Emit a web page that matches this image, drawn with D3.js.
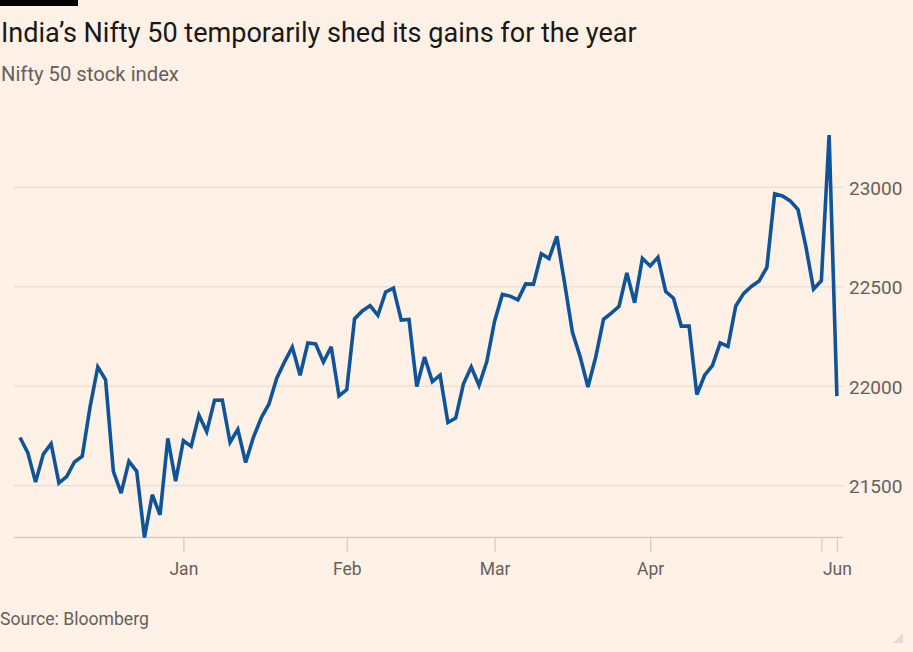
<!DOCTYPE html>
<html>
<head>
<meta charset="utf-8">
<script src="https://cdn.jsdelivr.net/npm/d3@7"></script>
<style>
  html, body { margin: 0; padding: 0; background: #fff1e5; }
  svg { display: block; }
  text { font-family: Roboto, "Noto Sans", sans-serif; }
</style>
</head>
<body>
<svg id="chart" width="913" height="652"></svg>
<script>
// ---- Data (Nifty 50 daily closes, trading days) ----
const months = ["Jan", "Feb", "Mar", "Apr", "May", "Jun"];
const janDays = ["01-01","01-02","01-03","01-04","01-05","01-08","01-09","01-10","01-11","01-12","01-15","01-16","01-17","01-18","01-19","01-20","01-23","01-24","01-25","01-29","01-30","01-31"];
const janValues = [21741.9,21665.8,21517.35,21658.6,21710.8,21513.0,21544.85,21618.7,21647.2,21894.55,22097.45,22032.3,21571.95,21462.25,21622.4,21571.8,21238.8,21453.95,21352.6,21737.6,21522.1,21725.7];
const febDays = ["02-01","02-02","02-05","02-06","02-07","02-08","02-09","02-12","02-13","02-14","02-15","02-16","02-19","02-20","02-21","02-22","02-23","02-26","02-27","02-28","02-29"];
const febValues = [21697.45,21853.8,21771.7,21929.4,21930.5,21717.95,21782.5,21616.05,21743.25,21840.05,21910.75,22040.7,22122.25,22196.95,22055.05,22217.45,22212.7,22122.05,22198.35,21951.15,21982.8];
const marDays = ["03-01","03-02","03-04","03-05","03-06","03-07","03-11","03-12","03-13","03-14","03-15","03-18","03-19","03-20","03-21","03-22","03-26","03-27","03-28"];
const marValues = [22338.75,22378.4,22405.6,22356.3,22474.05,22493.55,22332.65,22335.7,21997.7,22146.65,22023.35,22055.7,21817.45,21839.1,22011.95,22096.75,22004.7,22123.65,22326.9];
const aprDays = ["04-01","04-02","04-03","04-04","04-05","04-08","04-09","04-10","04-12","04-15","04-16","04-18","04-19","04-22","04-23","04-24","04-25","04-26","04-29","04-30"];
const aprValues = [22462.0,22453.3,22434.65,22514.65,22513.7,22666.3,22642.75,22753.8,22519.4,22272.5,22147.9,21995.85,22147.0,22336.4,22368.0,22402.4,22570.35,22419.95,22643.4,22604.85];
const mayDays = ["05-02","05-03","05-06","05-07","05-08","05-09","05-10","05-13","05-14","05-15","05-16","05-17","05-18","05-21","05-22","05-23","05-24","05-27","05-28","05-29","05-30","05-31"];
const mayValues = [22648.2,22475.85,22442.7,22302.5,22302.5,21957.5,22055.2,22104.05,22217.85,22200.55,22403.85,22466.1,22502.0,22529.05,22597.8,22967.65,22957.1,22932.45,22888.15,22704.7,22488.65,22530.7];
const junDays = ["06-03","06-04"];
const junValues = [23263.9,21950];
const yTicks = [21500, 22000, 22500, 23000];
// x ticks: last trading day of each month, plus the final day; label shown (or blank)
const xTickDays = ["01-31","02-29","03-28","04-30","05-31","06-04"];
const xTickLabels = ["Jan","Feb","Mar","Apr","","Jun"];

const dates = [].concat(janDays, febDays, marDays, aprDays, mayDays, junDays);
const values = [].concat(janValues, febValues, marValues, aprValues, mayValues, junValues);
const data = dates.map((d, i) => ({ date: d, i: i, v: values[i] }));

// ---- Chart ----
const svg = d3.select("#chart");
const W = 913, H = 652;
svg.append("rect").attr("width", W).attr("height", H).attr("fill", "#fff1e5");

const x = d3.scaleLinear().domain([0, data.length - 1]).range([20, 836.9]);
const y = d3.scaleLinear().domain(d3.extent(values)).range([537.5, 135]);
const gridLeft = 14, gridRight = 843;

// top black bar
svg.append("rect").attr("x", 0).attr("y", 0).attr("width", 78).attr("height", 6).attr("fill", "#000");

function fit(sel, target) {
  const fs = parseFloat(sel.attr("font-size"));
  const w = sel.node().getComputedTextLength();
  sel.attr("font-size", (fs * target / w).toFixed(2));
}

const title = svg.append("text").attr("x", 1).attr("y", 42)
  .attr("font-size", 23).attr("fill", "#1a1817")
  .text("India’s Nifty 50 temporarily shed its gains for the year");
fit(title, 636);

const sub = svg.append("text").attr("x", 1).attr("y", 81)
  .attr("font-size", 18).attr("fill", "#66605c")
  .text("Nifty 50 stock index");
fit(sub, 178);

// grid lines
const yAxis = d3.axisRight(y).tickValues(yTicks).tickSize(0).tickPadding(0).tickFormat(d3.format("d"));
const gy = svg.append("g").attr("transform", `translate(${gridLeft},0)`);
gy.selectAll("line.grid").data(yTicks).enter().append("line")
  .attr("class", "grid")
  .attr("x1", 0).attr("x2", gridRight - gridLeft)
  .attr("y1", d => y(d)).attr("y2", d => y(d))
  .attr("stroke", "#e9ddd2").attr("stroke-width", 1.3);

const gyl = svg.append("g").attr("transform", "translate(849,0)").call(yAxis);
gyl.select(".domain").remove();
gyl.selectAll("text").attr("font-size", 19).attr("fill", "#66605c")
  .attr("font-family", "Roboto, sans-serif").attr("dy", "0.37em").attr("x", 0);

// x axis
const tickIdx = xTickDays.map(d => dates.indexOf(d));
const xAxis = d3.axisBottom(x).tickValues(tickIdx).tickSize(15).tickPadding(10)
  .tickFormat((d, k) => xTickLabels[k]);
const gx = svg.append("g").attr("transform", "translate(0,537.5)").call(xAxis);
gx.select(".domain").remove();
gx.selectAll(".tick line").attr("stroke", "#d8ccc1").attr("stroke-width", 1.3);
gx.selectAll("text").attr("font-size", 17.5).attr("fill", "#66605c")
  .attr("font-family", "Roboto, sans-serif");
svg.append("line").attr("x1", gridLeft).attr("x2", gridRight)
  .attr("y1", 537.5).attr("y2", 537.5).attr("stroke", "#d8ccc1").attr("stroke-width", 1.3);

// line
const line = d3.line().x(d => x(d.i)).y(d => y(d.v));
svg.append("path").datum(data).attr("d", line)
  .attr("fill", "none").attr("stroke", "#0f5499").attr("stroke-width", 3.6)
  .attr("stroke-linejoin", "miter").attr("stroke-miterlimit", 3).attr("stroke-linecap", "butt");

// source
const src = svg.append("text").attr("x", 0).attr("y", 625)
  .attr("font-size", 17).attr("fill", "#66605c").text("Source: Bloomberg");
fit(src, 149);

// resize-handle triangle at bottom right
svg.append("path").attr("d", "M903,633 L903,643 L893,643 Z").attr("fill", "#d6d6d6").attr("opacity", 0.8);
</script>
</body>
</html>
